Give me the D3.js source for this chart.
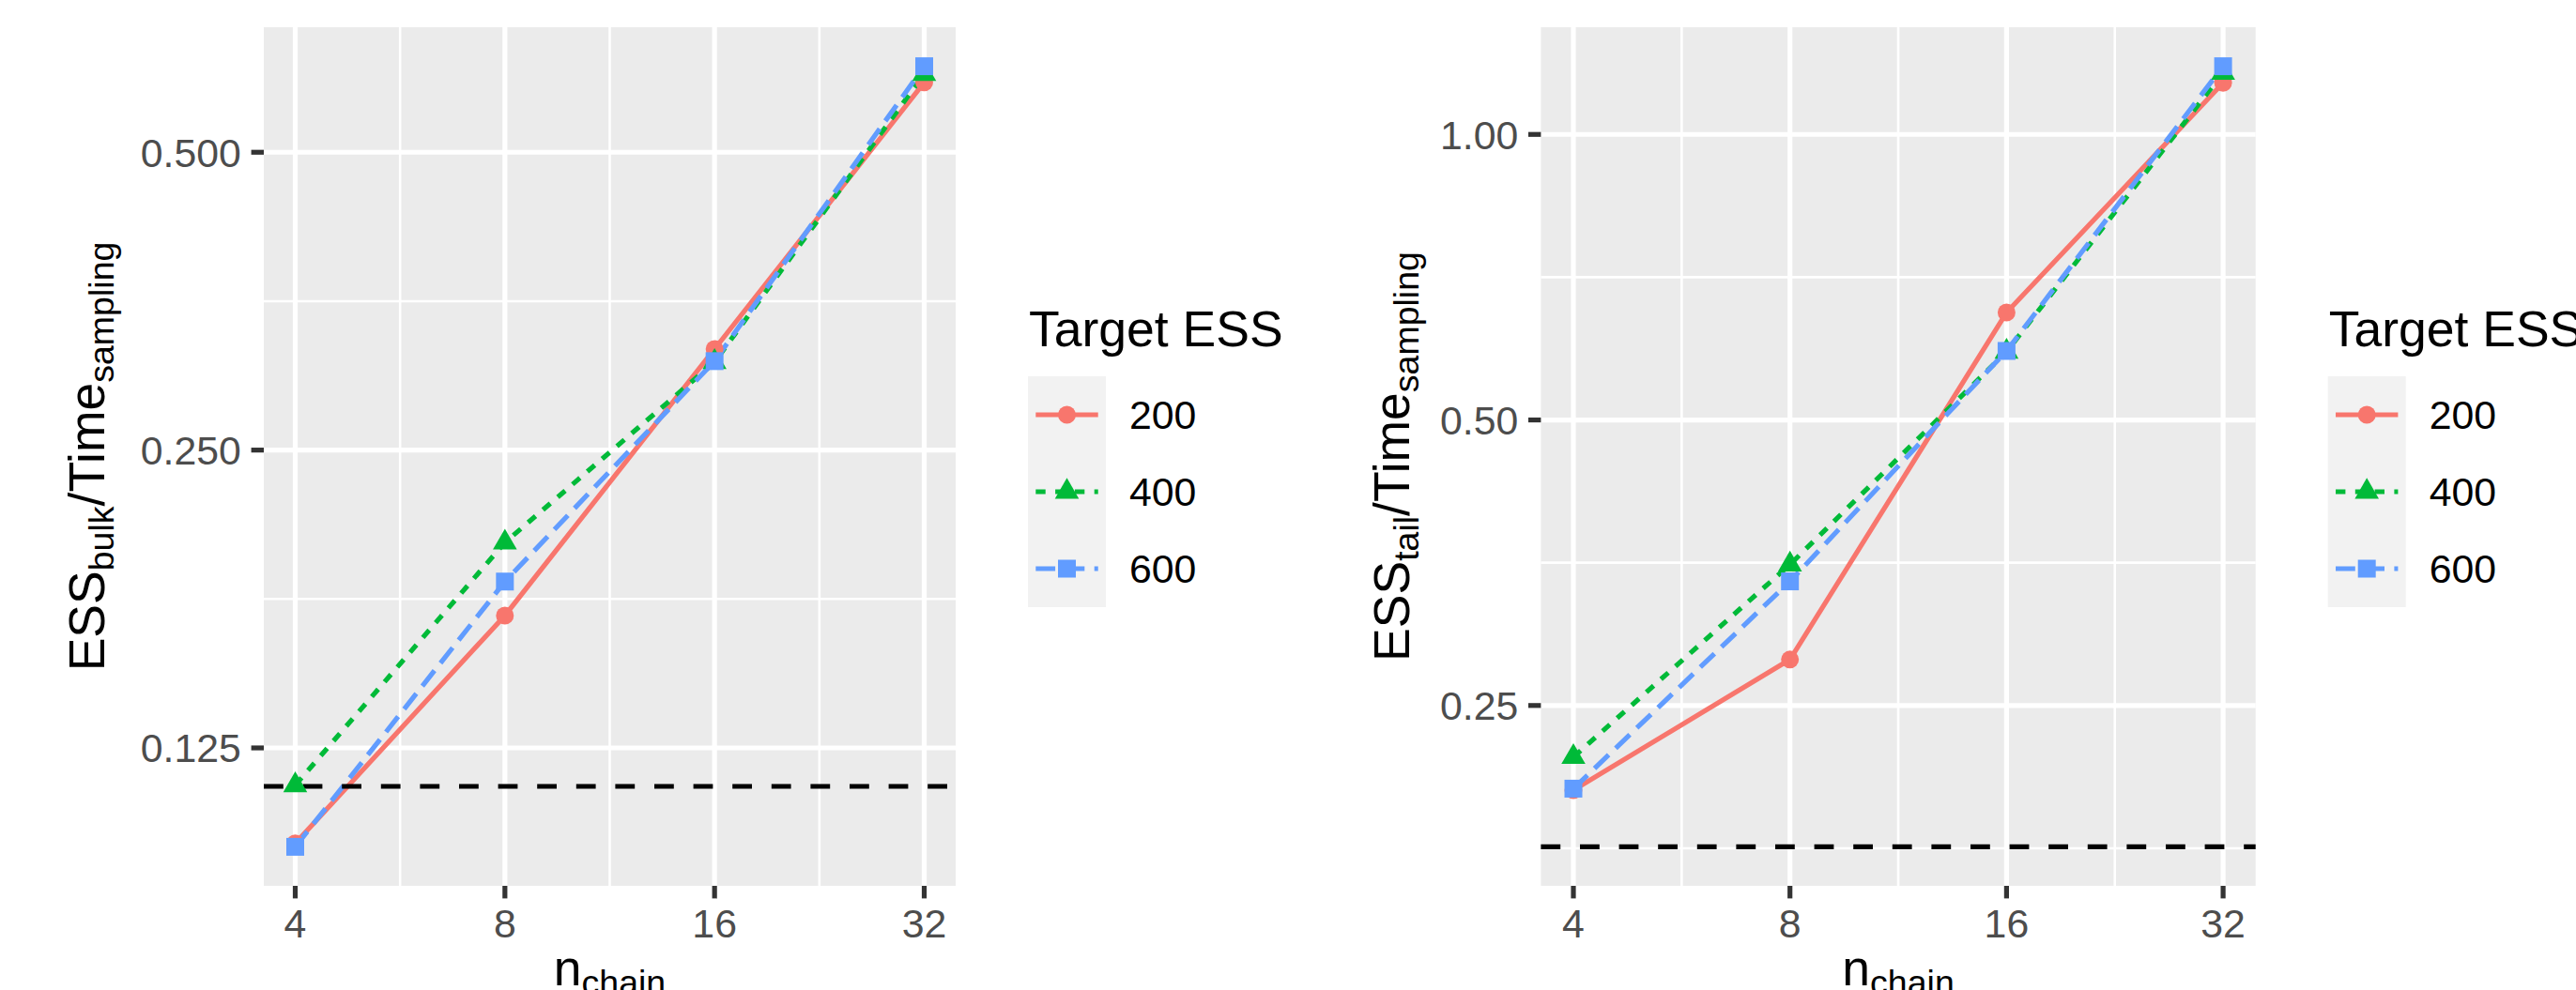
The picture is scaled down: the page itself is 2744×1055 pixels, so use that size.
<!DOCTYPE html>
<html>
<head>
<meta charset="utf-8">
<script src="https://cdn.jsdelivr.net/npm/d3@7"></script>
<style>
    body { margin: 0; background: #ffffff; }
    svg { display: block; font-family: "Liberation Sans", Arial, Helvetica, sans-serif; }
</style>
</head>
<body>
<svg id="chart" width="2744" height="1055"></svg>
<script>
// Daten
const nChain = [4, 8, 16, 32];
const targetLevels = ['200', '400', '600'];

// ESS_bulk / Time_sampling
const bulk200 = [0.1001, 0.1701, 0.3163, 0.5882];
const bulk400 = [0.1146, 0.2016, 0.3068, 0.6000];
const bulk600 = [0.0993, 0.1841, 0.3075, 0.6108];
const bulkRef = 0.1143;

// ESS_tail / Time_sampling
const tail200 = [0.2036, 0.2795, 0.6490, 1.1334];
const tail400 = [0.2206, 0.3520, 0.5900, 1.1613];
const tail600 = [0.2043, 0.3379, 0.5912, 1.1800];
const tailRef = 0.1774;

const xTicks = [4, 8, 16, 32];
const xTickLabels = ['4', '8', '16', '32'];
const bulkTicks = [0.125, 0.25, 0.5];
const bulkTickLabels = ['0.125', '0.250', '0.500'];
const tailTicks = [0.25, 0.5, 1];
const tailTickLabels = ['0.25', '0.50', '1.00'];

// Stil (ggplot-Defaults, skaliert)
const colors = ['#F8766D', '#00BA38', '#619CFF'];
const dashes = [null, '10.4,10.4', '20.8,10.4'];
const symbols = [d3.symbolCircle, d3.symbolTriangle, d3.symbolSquare];
const symbolSizes = [283, 283, 361];
const LW = 5.2;
const TITLE_SIZE = 53.5;
const TEXT_SIZE = 42.8;
const SUB_SIZE = 37.5;
const SUB_SHIFT = 10;

const svg = d3.select('#chart');

/**
 * Log2-Domain mit 5% Erweiterung (wie ggplot)
 */
function logExpand(extent) {
    const a = Math.log2(extent[0]);
    const b = Math.log2(extent[1]);
    const p = (b - a) * 0.05;
    return [Math.pow(2, a - p), Math.pow(2, b + p)];
}

/**
 * Minor-Breaks als geometrische Mitte zwischen Major-Breaks
 */
function minorBreaks(ticks, domain) {
    const ext = [ticks[0] / 2, ...ticks, ticks[ticks.length - 1] * 2];
    const out = [];
    for (let i = 0; i < ext.length - 1; i++) {
        const m = Math.sqrt(ext[i] * ext[i + 1]);
        if (m > domain[0] && m < domain[1]) out.push(m);
    }
    return out;
}

/**
 * Text mit Tiefstellungen als tspans
 */
function richText(sel, parts) {
    let shifted = false;
    parts.forEach(([txt, sub]) => {
        const t = sel.append('tspan').text(txt);
        if (sub) {
            t.style('font-size', SUB_SIZE + 'px');
            if (!shifted) { t.attr('dy', SUB_SHIFT); shifted = true; }
        } else {
            t.style('font-size', TITLE_SIZE + 'px');
            if (shifted) { t.attr('dy', -SUB_SHIFT); shifted = false; }
        }
    });
}

/**
 * Ein Panel zeichnen
 */
function drawPanel(p) {
    const g = svg.append('g');

    const allVals = p.series.flat().concat([p.ref]);
    const xScale = d3.scaleLog().base(2)
        .domain(logExpand(d3.extent(nChain)))
        .range([p.left, p.right]);
    const yScale = d3.scaleLog().base(2)
        .domain(logExpand(d3.extent(allVals)))
        .range([p.bottom, p.top]);

    // Hintergrund
    g.append('rect')
        .attr('x', p.left)
        .attr('y', p.top)
        .attr('width', p.right - p.left)
        .attr('height', p.bottom - p.top)
        .attr('fill', '#EBEBEB');

    // Gitter (minor)
    const grid = g.append('g').attr('stroke', '#ffffff').attr('fill', 'none');
    minorBreaks(xTicks, xScale.domain()).forEach(v => {
        grid.append('line')
            .attr('x1', xScale(v)).attr('x2', xScale(v))
            .attr('y1', p.top).attr('y2', p.bottom)
            .attr('stroke-width', LW / 2);
    });
    minorBreaks(p.yTicks, yScale.domain()).forEach(v => {
        grid.append('line')
            .attr('x1', p.left).attr('x2', p.right)
            .attr('y1', yScale(v)).attr('y2', yScale(v))
            .attr('stroke-width', LW / 2);
    });

    // Gitter (major)
    xTicks.forEach(v => {
        grid.append('line')
            .attr('x1', xScale(v)).attr('x2', xScale(v))
            .attr('y1', p.top).attr('y2', p.bottom)
            .attr('stroke-width', LW);
    });
    p.yTicks.forEach(v => {
        grid.append('line')
            .attr('x1', p.left).attr('x2', p.right)
            .attr('y1', yScale(v)).attr('y2', yScale(v))
            .attr('stroke-width', LW);
    });

    // Linien
    const line = d3.line()
        .x((d, i) => xScale(nChain[i]))
        .y(d => yScale(d));

    p.series.forEach((s, k) => {
        g.append('path')
            .datum(s)
            .attr('d', line)
            .attr('fill', 'none')
            .attr('stroke', colors[k])
            .attr('stroke-width', LW)
            .attr('stroke-dasharray', dashes[k]);
    });

    // Referenzlinie
    g.append('line')
        .attr('x1', p.left)
        .attr('x2', p.right)
        .attr('y1', yScale(p.ref))
        .attr('y2', yScale(p.ref))
        .attr('stroke', '#000000')
        .attr('stroke-width', LW)
        .attr('stroke-dasharray', '20.8,20.8');

    // Punkte
    p.series.forEach((s, k) => {
        g.selectAll(null)
            .data(s)
            .enter()
            .append('path')
            .attr('d', d3.symbol(symbols[k], symbolSizes[k]))
            .attr('transform', (d, i) => `translate(${xScale(nChain[i])},${yScale(d)})`)
            .attr('fill', colors[k]);
    });

    // Achsen-Ticks
    const ticks = g.append('g').attr('stroke', '#333333').attr('stroke-width', LW);
    xTicks.forEach(v => {
        ticks.append('line')
            .attr('x1', xScale(v)).attr('x2', xScale(v))
            .attr('y1', p.bottom).attr('y2', p.bottom + 13.4);
    });
    p.yTicks.forEach(v => {
        ticks.append('line')
            .attr('x1', p.left - 13.4).attr('x2', p.left)
            .attr('y1', yScale(v)).attr('y2', yScale(v));
    });

    // Tick-Labels
    g.selectAll(null)
        .data(xTicks)
        .enter()
        .append('text')
        .attr('x', d => xScale(d))
        .attr('y', p.bottom + 54.6)
        .attr('text-anchor', 'middle')
        .style('font-size', TEXT_SIZE + 'px')
        .style('fill', '#4D4D4D')
        .text((d, i) => xTickLabels[i]);

    g.selectAll(null)
        .data(p.yTicks)
        .enter()
        .append('text')
        .attr('x', p.left - 24.1)
        .attr('y', d => yScale(d) + 0.358 * TEXT_SIZE)
        .attr('text-anchor', 'end')
        .style('font-size', TEXT_SIZE + 'px')
        .style('fill', '#4D4D4D')
        .text((d, i) => p.yTickLabels[i]);

    // Achsentitel
    const xt = g.append('text')
        .attr('x', (p.left + p.right) / 2)
        .attr('y', p.bottom + 105.5)
        .attr('text-anchor', 'middle')
        .style('fill', '#000000');
    richText(xt, [['n', false], ['chain', true]]);

    const yt = g.append('text')
        .attr('transform', `translate(${p.yTitleX},${(p.top + p.bottom) / 2}) rotate(-90)`)
        .attr('text-anchor', 'middle')
        .style('fill', '#000000');
    richText(yt, [['ESS', false], [p.sub, true], ['/Time', false], ['sampling', true]]);

    drawLegend(p.right + 77);
}

/**
 * Legende "Target ESS"
 */
function drawLegend(x0) {
    const lg = svg.append('g');
    const keyW = 83;
    const keyH = 82;
    const top = 401;

    lg.append('text')
        .attr('x', x0 + 1)
        .attr('y', 369)
        .style('font-size', TITLE_SIZE + 'px')
        .style('fill', '#000000')
        .text('Target ESS');

    lg.append('rect')
        .attr('x', x0)
        .attr('y', top)
        .attr('width', keyW)
        .attr('height', keyH * targetLevels.length)
        .attr('fill', '#F2F2F2');

    targetLevels.forEach((lab, k) => {
        const cy = top + keyH * (k + 0.5);
        lg.append('line')
            .attr('x1', x0 + keyW * 0.1)
            .attr('x2', x0 + keyW * 0.9)
            .attr('y1', cy)
            .attr('y2', cy)
            .attr('stroke', colors[k])
            .attr('stroke-width', LW)
            .attr('stroke-dasharray', dashes[k]);
        lg.append('path')
            .attr('d', d3.symbol(symbols[k], symbolSizes[k]))
            .attr('transform', `translate(${x0 + keyW / 2},${cy})`)
            .attr('fill', colors[k]);
        lg.append('text')
            .attr('x', x0 + 108)
            .attr('y', cy + 0.358 * TEXT_SIZE)
            .style('font-size', TEXT_SIZE + 'px')
            .style('fill', '#000000')
            .text(lab);
    });
}

drawPanel({
    left: 281, right: 1018, top: 29, bottom: 944, yTitleX: 111,
    series: [bulk200, bulk400, bulk600], ref: bulkRef,
    yTicks: bulkTicks, yTickLabels: bulkTickLabels, sub: 'bulk'
});

drawPanel({
    left: 1641.4, right: 2402.7, top: 29, bottom: 944, yTitleX: 1501,
    series: [tail200, tail400, tail600], ref: tailRef,
    yTicks: tailTicks, yTickLabels: tailTickLabels, sub: 'tail'
});
</script>
</body>
</html>
